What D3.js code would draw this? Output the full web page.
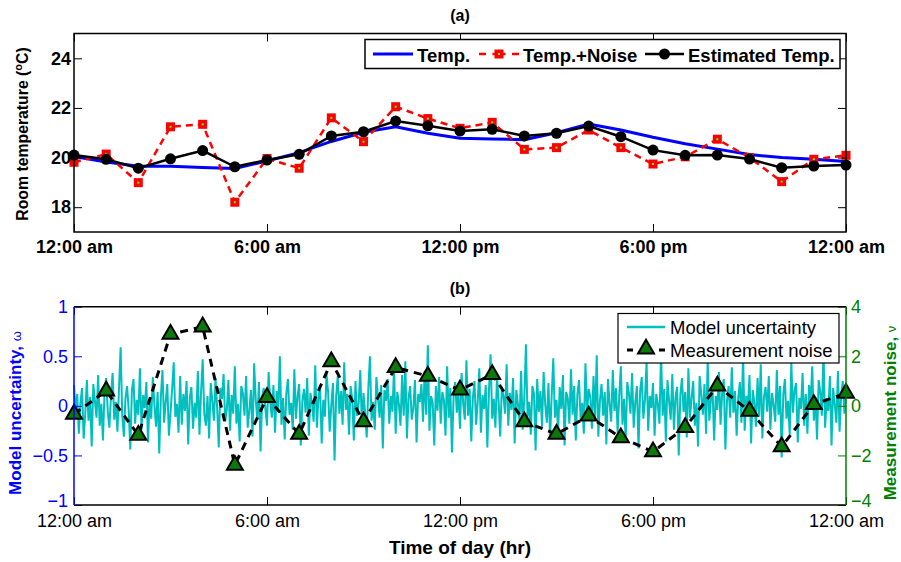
<!DOCTYPE html>
<html><head><meta charset="utf-8">
<script src="https://cdn.jsdelivr.net/npm/d3@7"></script>
<style>
body{margin:0;background:#fff;}
svg{display:block;font-family:"Liberation Sans",Arial,Helvetica,sans-serif;}
</style></head>
<body><svg id="c" width="901" height="562"></svg>
<script>
// ---------- data ----------
const hours = d3.range(0, 25);
const timeTicks = [0, 6, 12, 18, 24];
const timeLabels = ["12:00 am", "6:00 am", "12:00 pm", "6:00 pm", "12:00 am"];
const tempTicks = [18, 20, 22, 24];
const omegaTicks = [-1, -0.5, 0, 0.5, 1];
const nuTicks = [-4, -2, 0, 2, 4];

const trueTemp = [20.04, 19.82, 19.65, 19.65, 19.6, 19.56, 19.86, 20.2, 20.65, 21.02, 21.24, 20.98, 20.78, 20.75, 20.72, 21.0, 21.35, 21.11, 20.82, 20.56, 20.34, 20.12, 20.0, 19.93, 19.84];
const noisyTemp = [19.81, 20.14, 18.99, 21.24, 21.34, 18.2, 19.96, 19.57, 21.6, 20.64, 22.05, 21.57, 21.18, 21.42, 20.33, 20.4, 21.11, 20.4, 19.74, 20.03, 20.74, 20.0, 19.03, 19.93, 20.09];
const estTemp = [20.1, 19.93, 19.57, 19.95, 20.28, 19.63, 19.9, 20.13, 20.87, 21.04, 21.47, 21.28, 21.07, 21.14, 20.87, 20.98, 21.27, 20.84, 20.3, 20.09, 20.1, 19.94, 19.59, 19.66, 19.7];
const measNoise = [-0.33, 0.6, -1.18, 2.89, 3.19, -2.39, 0.34, -1.14, 1.78, -0.64, 1.55, 1.2, 0.64, 1.27, -0.64, -1.14, -0.41, -1.28, -1.85, -0.87, 0.8, -0.21, -1.65, 0.06, 0.51];
const modelUnc = [
 0.21,-0.05,0.12,-0.28,0.03,0.18,-0.33,-0.08,0.26,-0.15,0.09,-0.41,0.22,0.05,-0.12,0.31,-0.2,0.02,-0.35,0.15,0.28,-0.06,-0.22,0.1,
 0.33,-0.14,0.04,-0.26,0.19,0.59,-0.1,-0.31,0.08,0.2,-0.04,-0.44,0.16,0.27,-0.18,0.06,-0.09,0.38,-0.24,0.11,-0.02,0.24,-0.37,0.07,
 -0.13,0.29,0.01,-0.21,0.14,-0.48,0.09,0.36,-0.17,0.04,0.22,-0.3,-0.07,0.17,0.44,-0.11,0.02,-0.27,0.3,-0.19,0.12,-0.05,0.25,-0.39,
 0.08,0.19,-0.23,0.03,-0.12,0.35,-0.29,0.14,0.47,-0.08,-0.2,0.1,-0.33,0.23,0.05,-0.15,0.28,-0.02,-0.42,0.18,0.07,0.32,-0.16,-0.04,
 0.26,-0.25,0.11,-0.08,0.4,-0.18,0.02,-0.36,0.2,0.13,-0.1,0.3,-0.22,-0.05,0.16,-0.31,0.43,0.06,-0.14,0.24,-0.46,0.09,0.18,-0.03,
 -0.2,0.34,0.04,-0.12,0.21,-0.27,0.15,-0.06,0.5,-0.19,0.08,-0.34,0.12,0.27,-0.09,0.03,-0.24,0.37,-0.13,0.1,0.22,-0.4,0.05,0.17,
 -0.07,0.28,-0.3,0.13,0.02,-0.16,0.41,-0.22,0.09,0.19,-0.38,0.06,-0.11,0.32,0.14,-0.26,0.01,0.23,-0.55,0.1,0.3,-0.08,0.15,-0.19,
 0.44,-0.04,0.12,-0.29,0.2,0.07,-0.35,0.25,-0.1,0.03,0.36,-0.21,0.13,-0.07,-0.32,0.18,0.5,-0.15,0.04,-0.24,0.29,0.09,-0.12,0.21,
 -0.43,0.16,0.05,0.27,-0.18,0.1,-0.06,0.39,-0.28,0.14,0.02,-0.2,0.31,-0.1,0.45,-0.33,0.08,0.2,-0.14,-0.02,0.26,-0.37,0.12,0.04,
 0.22,-0.16,0.35,-0.09,0.61,-0.25,0.1,0.03,-0.4,0.2,-0.05,0.29,-0.18,0.14,0.06,-0.3,0.4,-0.12,0.18,-0.47,0.09,0.24,-0.07,0.13,
 -0.23,0.33,0.02,-0.14,0.46,-0.1,0.17,-0.36,0.08,0.25,-0.19,0.04,0.38,-0.27,0.11,-0.03,0.21,-0.42,0.15,0.52,-0.13,0.07,-0.22,0.3,
 0.05,-0.31,0.19,0.1,-0.08,0.42,-0.2,0.13,-0.04,0.28,-0.38,0.16,0.02,-0.15,0.35,-0.24,0.09,0.62,-0.11,0.04,-0.29,0.2,0.12,-0.45,
 0.27,-0.06,0.15,-0.21,0.34,0.01,-0.17,0.23,-0.33,0.1,0.48,-0.12,0.06,-0.26,0.19,-0.03,0.31,-0.4,0.14,0.08,-0.18,0.37,-0.09,0.2,
 -0.35,0.12,0.26,-0.14,0.03,-0.28,0.43,-0.07,0.17,0.09,-0.23,0.3,-0.12,0.51,-0.31,0.05,0.22,-0.1,0.14,-0.39,0.27,0.02,-0.16,0.36,
 -0.05,0.18,-0.27,0.1,0.4,-0.19,0.07,-0.34,0.24,0.13,-0.08,0.33,-0.22,0.04,0.2,-0.43,0.15,0.29,-0.13,0.06,0.45,-0.25,0.1,-0.02,
 0.23,-0.3,0.12,0.02,-0.18,0.55,-0.1,0.17,-0.36,0.26,0.05,-0.14,0.32,-0.24,0.09,0.19,-0.5,0.11,0.28,-0.06,0.14,-0.32,0.38,-0.12,
 0.08,0.25,-0.2,0.03,-0.41,0.3,0.12,-0.09,0.22,-0.28,0.47,-0.15,0.06,0.18,-0.35,0.1,-0.04,0.34,-0.19,0.13,0.27,-0.44,0.05,0.2,
 -0.12,0.39,-0.07,0.15,-0.3,0.08,0.24,-0.17,0.53,-0.25,0.1,-0.02,0.31,-0.38,0.16,0.04,-0.21,0.28,-0.11,0.42,-0.33,0.09,0.19,-0.06,
 0.3,-0.24,0.13,0.01,-0.16,0.36,-0.09,0.2,-0.52,0.11,0.27,-0.13,0.05,-0.29,0.44,-0.07,0.16,0.23,-0.37,0.08,-0.03,0.33,-0.2,0.12,
 -0.28,0.21,0.04,0.4,-0.15,0.09,-0.34,0.26,0.14,-0.1,0.57,-0.22,0.07,-0.05,0.3,-0.4,0.18,0.02,-0.17,0.35,-0.26,0.11,0.25,-0.08,
 0.15];

// ---------- colours ----------
const BLUE = "#0000ff", RED = "#ff0000", CYAN = "#00bfbf", GREEN = "#008000", DKGREEN = "#0b7a0b";

const svg = d3.select("#c");
const L = 74, R = 846;
const x = d3.scaleLinear().domain([0, 24]).range([L, R]);

function styleAxis(g, color, fs, fw) {
  g.select(".domain").remove();
  g.selectAll(".tick line").attr("stroke", color).attr("stroke-width", 1);
  g.selectAll(".tick text").attr("fill", color).attr("font-size", fs).attr("font-weight", fw)
    .attr("font-family", "Liberation Sans, Arial, sans-serif");
}

// ================= panel (a) =================
const aTop = 33.5, aBot = 232;
const yT = d3.scaleLinear().domain([17, 25]).range([aBot, aTop]);

svg.append("text").attr("x", 460).attr("y", 21).attr("text-anchor", "middle")
  .attr("font-weight", "bold").attr("font-size", 16).text("(a)");

const lineT = d3.line().x((d, i) => x(hours[i])).y(d => yT(d));
svg.append("path").datum(trueTemp).attr("d", lineT).attr("fill", "none").attr("stroke", BLUE).attr("stroke-width", 3);
svg.append("path").datum(noisyTemp).attr("d", lineT).attr("fill", "none").attr("stroke", RED).attr("stroke-width", 2.5).attr("stroke-dasharray", "7,5");
svg.append("g").selectAll("rect").data(noisyTemp).join("rect")
  .attr("x", (d, i) => x(hours[i]) - 4.5).attr("y", d => yT(d) - 4.5).attr("width", 9).attr("height", 9).attr("fill", RED);
svg.append("g").selectAll("rect").data(noisyTemp).join("rect")
  .attr("x", (d, i) => x(hours[i]) - 1).attr("y", d => yT(d) - 1).attr("width", 2).attr("height", 2).attr("fill", "#33ff33");
svg.append("path").datum(estTemp).attr("d", lineT).attr("fill", "none").attr("stroke", "#000").attr("stroke-width", 2.5);
svg.append("g").selectAll("circle").data(estTemp).join("circle")
  .attr("cx", (d, i) => x(hours[i])).attr("cy", d => yT(d)).attr("r", 5.5).attr("fill", "#000");

const ga = svg.append("g");
styleAxis(ga.append("g").attr("transform", `translate(0,${aBot})`)
  .call(d3.axisBottom(x).tickValues(timeTicks).tickFormat((d, i) => timeLabels[i]).tickSizeInner(-8).tickSizeOuter(0).tickPadding(8)), "#000", 18, "bold");
styleAxis(ga.append("g").attr("transform", `translate(0,${aTop})`)
  .call(d3.axisTop(x).tickValues(timeTicks).tickFormat("").tickSizeInner(-8).tickSizeOuter(0)), "#000", 18, "bold");
styleAxis(ga.append("g").attr("transform", `translate(${L},0)`)
  .call(d3.axisLeft(yT).tickValues(tempTicks).tickFormat(d3.format("d")).tickSizeInner(-8).tickSizeOuter(0).tickPadding(3)), "#000", 18, "bold");
styleAxis(ga.append("g").attr("transform", `translate(${R},0)`)
  .call(d3.axisRight(yT).tickValues(tempTicks).tickFormat("").tickSizeInner(-8).tickSizeOuter(0)), "#000", 18, "bold");

svg.append("rect").attr("x", L).attr("y", aTop).attr("width", R - L).attr("height", aBot - aTop)
  .attr("fill", "none").attr("stroke", "#000").attr("stroke-width", 1.5);

const la = svg.append("text").attr("transform", "translate(28,134) rotate(-90)")
  .attr("text-anchor", "middle").attr("font-weight", "bold").attr("font-size", 15.8);
la.append("tspan").text("Room temperature (");
la.append("tspan").attr("dy", -6).attr("font-size", 11).text("o");
la.append("tspan").attr("dy", 6).text("C)");

// legend (a)
const lga = svg.append("g");
lga.append("rect").attr("x", 365).attr("y", 39.5).attr("width", 475).attr("height", 29)
  .attr("fill", "#fff").attr("stroke", "#000").attr("stroke-width", 1.5);
lga.append("line").attr("x1", 373).attr("x2", 413).attr("y1", 54).attr("y2", 54).attr("stroke", BLUE).attr("stroke-width", 3);
lga.append("text").attr("x", 417).attr("y", 61.5).attr("font-weight", "bold").attr("font-size", 18.5).text("Temp.");
lga.append("line").attr("x1", 479).attr("x2", 519).attr("y1", 54).attr("y2", 54).attr("stroke", RED).attr("stroke-width", 2.5).attr("stroke-dasharray", "7,6.5,13,6.5,7");
lga.append("rect").attr("x", 494.5).attr("y", 49.5).attr("width", 9).attr("height", 9).attr("fill", RED);
lga.append("rect").attr("x", 498).attr("y", 53).attr("width", 2).attr("height", 2).attr("fill", "#33ff33");
lga.append("text").attr("x", 523).attr("y", 61.5).attr("font-weight", "bold").attr("font-size", 18.5).text("Temp.+Noise");
lga.append("line").attr("x1", 645).attr("x2", 684).attr("y1", 54).attr("y2", 54).attr("stroke", "#000").attr("stroke-width", 2.5);
lga.append("circle").attr("cx", 664.5).attr("cy", 54).attr("r", 5.5).attr("fill", "#000");
lga.append("text").attr("x", 688).attr("y", 61.5).attr("font-weight", "bold").attr("font-size", 18.5).text("Estimated Temp.");

// ================= panel (b) =================
const bTop = 306.7, bBot = 505;
const yL = d3.scaleLinear().domain([-1, 1]).range([bBot, bTop]);
const yR = d3.scaleLinear().domain([-4, 4]).range([bBot, bTop]);

svg.append("text").attr("x", 460).attr("y", 294).attr("text-anchor", "middle")
  .attr("font-weight", "bold").attr("font-size", 16).text("(b)");

const tMin = d3.scaleLinear().domain([0, modelUnc.length - 1]).range([0, 24]);
svg.append("path").datum(modelUnc)
  .attr("d", d3.line().x((d, i) => x(tMin(i))).y(d => yL(d)))
  .attr("fill", "none").attr("stroke", CYAN).attr("stroke-width", 2).attr("stroke-linejoin", "bevel");

svg.append("path").datum(measNoise)
  .attr("d", d3.line().x((d, i) => x(hours[i])).y(d => yR(d)))
  .attr("fill", "none").attr("stroke", "#000").attr("stroke-width", 3).attr("stroke-dasharray", "8,6");
const tri = d3.symbol().type(d3.symbolTriangle).size(110);
svg.append("g").selectAll("path").data(measNoise).join("path")
  .attr("transform", (d, i) => `translate(${x(hours[i])},${yR(d)})`)
  .attr("d", tri).attr("fill", DKGREEN).attr("stroke", "#000").attr("stroke-width", 2);

const gb = svg.append("g");
styleAxis(gb.append("g").attr("transform", `translate(0,${bBot})`)
  .call(d3.axisBottom(x).tickValues(timeTicks).tickFormat((d, i) => timeLabels[i]).tickSizeInner(-8).tickSizeOuter(0).tickPadding(9)), "#000", 18, "normal");
styleAxis(gb.append("g").attr("transform", `translate(0,${bTop})`)
  .call(d3.axisTop(x).tickValues(timeTicks).tickFormat("").tickSizeInner(-8).tickSizeOuter(0)), "#000", 18, "normal");
styleAxis(gb.append("g").attr("transform", `translate(${L},0)`)
  .call(d3.axisLeft(yL).tickValues(omegaTicks).tickFormat(d => d === 0 ? "0" : d3.format("")(d).replace("-", "\u2212")).tickSizeInner(-8).tickSizeOuter(0).tickPadding(6)), BLUE, 18, "normal");
styleAxis(gb.append("g").attr("transform", `translate(${R},0)`)
  .call(d3.axisRight(yR).tickValues(nuTicks).tickFormat(d => String(d).replace("-", "\u2212")).tickSizeInner(-8).tickSizeOuter(0).tickPadding(5)), GREEN, 18, "normal");
gb.selectAll(".tick text").filter(d => d === -1 || d === -4).attr("dy", "0.1em");

svg.append("line").attr("x1", L).attr("x2", R).attr("y1", bTop).attr("y2", bTop).attr("stroke", "#000").attr("stroke-width", 1.5);
svg.append("line").attr("x1", L).attr("x2", R).attr("y1", bBot).attr("y2", bBot).attr("stroke", "#000").attr("stroke-width", 1.5);
svg.append("line").attr("x1", L).attr("x2", L).attr("y1", bTop).attr("y2", bBot).attr("stroke", BLUE).attr("stroke-width", 1.5);
svg.append("line").attr("x1", R).attr("x2", R).attr("y1", bTop).attr("y2", bBot).attr("stroke", GREEN).attr("stroke-width", 1.5);

const lb = svg.append("text").attr("transform", "translate(21,413) rotate(-90)")
  .attr("text-anchor", "middle").attr("font-weight", "bold").attr("font-size", 17).attr("fill", BLUE);
lb.append("tspan").text("Model uncertainty, ");
lb.append("tspan").attr("font-weight", "normal").attr("font-size", 13).text("\u03c9");
const rb = svg.append("text").attr("transform", "translate(896,413) rotate(-90)")
  .attr("text-anchor", "middle").attr("font-weight", "bold").attr("font-size", 17).attr("fill", GREEN);
rb.append("tspan").text("Measurement noise, ");
rb.append("tspan").attr("font-weight", "normal").attr("font-size", 13).text("\u03bd");

svg.append("text").attr("x", 460).attr("y", 554).attr("text-anchor", "middle")
  .attr("font-weight", "bold").attr("font-size", 19).text("Time of day (hr)");

// legend (b)
const lgb = svg.append("g");
lgb.append("rect").attr("x", 618).attr("y", 313.5).attr("width", 221).attr("height", 49.5)
  .attr("fill", "#fff").attr("stroke", "#000").attr("stroke-width", 1.2);
lgb.append("line").attr("x1", 627).attr("x2", 665).attr("y1", 327).attr("y2", 327).attr("stroke", CYAN).attr("stroke-width", 2.5);
lgb.append("text").attr("x", 670).attr("y", 334).attr("font-size", 18.5).text("Model uncertainty");
lgb.append("line").attr("x1", 627).attr("x2", 665).attr("y1", 350).attr("y2", 350).attr("stroke", "#000").attr("stroke-width", 3).attr("stroke-dasharray", "6,26,6");
lgb.append("path").attr("transform", "translate(646,349)").attr("d", tri).attr("fill", DKGREEN).attr("stroke", "#000").attr("stroke-width", 2);
lgb.append("text").attr("x", 670).attr("y", 357).attr("font-size", 18.5).text("Measurement noise");
</script></body></html>
